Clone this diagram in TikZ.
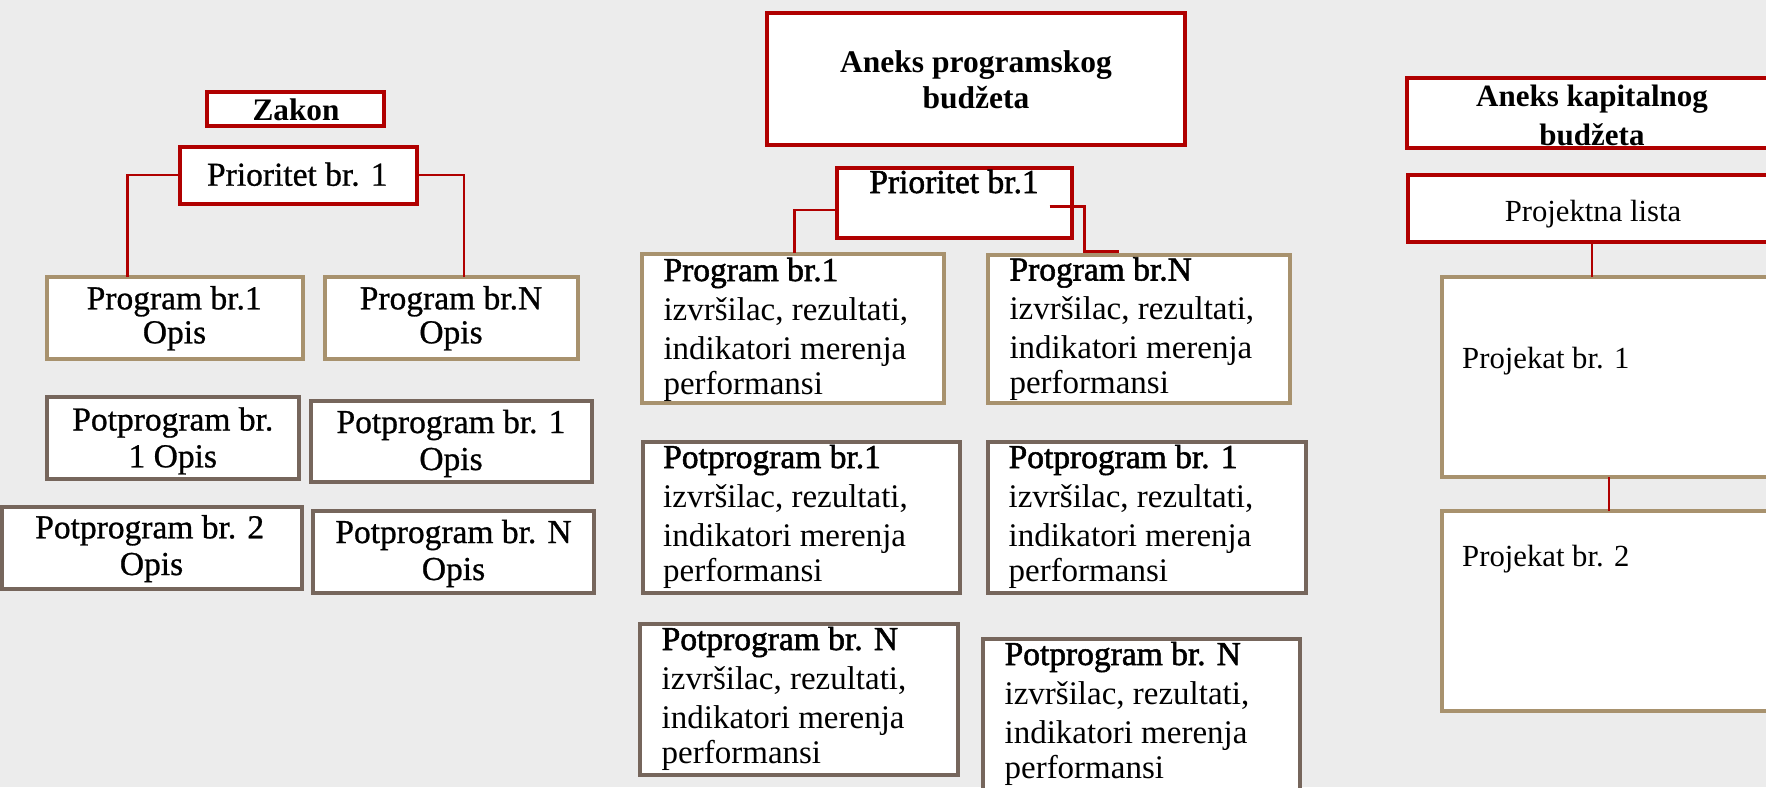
\documentclass[tikz,border=0pt]{standalone}
\usepackage{fontspec}
\setmainfont{Liberation Serif}
\newfontfamily\heavyf[FakeBold=0.8]{Liberation Serif}
\newfontfamily\semibf[FakeBold=1.6]{Liberation Serif}
\usetikzlibrary{calc}
\definecolor{bgc}{RGB}{236,236,236}
\definecolor{redc}{RGB}{176,0,0}
\definecolor{tanc}{RGB}{168,146,110}
\definecolor{brownc}{RGB}{118,102,92}
\tikzset{
 box/.style={draw, fill=white, line width=4pt, rectangle, inner sep=0pt, outer sep=0pt, anchor=north west},
 redbox/.style={box, draw=redc},
 tanbox/.style={box, draw=tanc},
 brownbox/.style={box, draw=brownc},
 conn/.style={draw=redc, line width=2.6pt},
 lt/.style={font=\heavyf\fontsize{33.5}{37}\selectfont, inner sep=0pt, anchor=base},
 mt/.style={font=\rmfamily\fontsize{33}{38}\selectfont, inner sep=0pt, anchor=base west},
 mth/.style={font=\semibf\fontsize{33.5}{38}\selectfont, inner sep=0pt, anchor=base west},
 rt/.style={font=\rmfamily\fontsize{30.7}{36}\selectfont, inner sep=0pt},
 rtb/.style={font=\rmfamily\bfseries\fontsize{31}{36}\selectfont, inner sep=0pt, anchor=base},
 mtb/.style={font=\rmfamily\bfseries\fontsize{31.5}{36}\selectfont, inner sep=0pt, anchor=base},
}
\newcommand\mkbox[6]{\node[#6, minimum width={#4-#2}, minimum height={#5-#3}] (#1) at (#2,#3) {};}
\newcommand\mblock[4]{%
 \node[mth] (#1h) at ({#2},{#3}) {#4};
 \node[mt] (#1a) at ({#2},{#3+39}) {izvršilac, rezultati,};
 \node[mt] (#1b) at ({#2},{#3+78}) {indikatori merenja};
 \node[mt] (#1c) at ({#2},{#3+113}) {performansi};
}
\begin{document}
\begin{tikzpicture}[x=1pt,y=-1pt]
\useasboundingbox (0,0) rectangle (1766,787);
\clip (0,0) rectangle (1766,787);
\fill[bgc] (0,0) rectangle (1766,787);
% left column
\mkbox{zakon}{206.6}{92}{384.3}{125.5}{redbox}
\mkbox{prioL}{180}{146.5}{417}{203.5}{redbox}
\mkbox{progL1}{46.7}{277}{302.5}{358.5}{tanbox}
\mkbox{progLN}{324.5}{277}{577.5}{358.5}{tanbox}
\mkbox{potL1}{46.7}{397.3}{299.3}{479.3}{brownbox}
\mkbox{potL1b}{311}{401}{592}{482}{brownbox}
\mkbox{potL2}{2}{507.3}{301.7}{589.3}{brownbox}
\mkbox{potLN}{313.4}{511}{593.5}{593}{brownbox}
% middle column
\mkbox{aneksP}{767.3}{13}{1185.2}{145}{redbox}
\mkbox{prioM}{837}{168}{1071.5}{238}{redbox}
\mkbox{progM1}{642}{254}{944}{402.5}{tanbox}
\mkbox{progMN}{988.3}{254.5}{1289.5}{402.5}{tanbox}
\mkbox{potM1}{642.8}{442}{960.2}{593}{brownbox}
\mkbox{potM1b}{988.3}{442}{1305.7}{593}{brownbox}
\mkbox{potMN}{640.1}{624}{957.5}{775}{brownbox}
\mkbox{potMNb}{983}{639}{1300.4}{800}{brownbox}
% right column
\mkbox{aneksK}{1407}{78}{1800}{148}{redbox}
\mkbox{projL}{1407.5}{175}{1800}{241.7}{redbox}
\mkbox{proj1}{1442}{277}{1800}{477}{tanbox}
\mkbox{proj2}{1442}{511}{1800}{711}{tanbox}
% connectors
\draw[conn] (prioL.west) -| ($(progL1.north west)+(80.7,0)$);
\draw[conn] (prioL.east) -| ($(progLN.north west)+(139.3,0)$);
\draw[conn] ($(prioM.west)+(0,7)$) -| ($(progM1.north west)+(152.2,-1)$);
\draw[conn] ($(prioM.east)+(-22,3.7)$) -- ++(34.7,0) |- ($(progMN.north west)+(131,-3)$);
\draw[conn] ($(projL.south west)+(184.5,0)$) -- ($(proj1.north west)+(150,0)$);
\draw[conn] ($(proj1.south west)+(167,0)$) -- ($(proj2.north west)+(167,0)$);
% left texts
\node[font=\rmfamily\bfseries\fontsize{31.3}{33}\selectfont, inner sep=0pt, anchor=base] (tzakon) at (296,120.7) {Zakon};
\node[lt] (tprioL) at (297.3,185.7) {Prioritet br. 1};
\node[lt] (tprogL1a) at (174.2,309.3) {Program br.1};
\node[lt] (tprogL1b) at (174.5,343.3) {Opis};
\node[lt] (tprogLNa) at (451,309.3) {Program br.N};
\node[lt] (tprogLNb) at (451,343.3) {Opis};
\node[lt] (tpotL1a) at (172.8,430.5) {Potprogram br.};
\node[lt] (tpotL1b) at (172.8,467.3) {1 Opis};
\node[lt] (tpotL1ba) at (451,433) {Potprogram br. 1};
\node[lt] (tpotL1bb) at (451,470) {Opis};
\node[lt] (tpotL2a) at (149.7,538.3) {Potprogram br. 2};
\node[lt] (tpotL2b) at (151.5,575) {Opis};
\node[lt] (tpotLNa) at (453.5,543) {Potprogram br. N};
\node[lt] (tpotLNb) at (453.5,580) {Opis};
% middle texts
\node[mtb] (taneksPa) at (976,72) {Aneks programskog};
\node[mtb] (taneksPb) at (976,108) {budžeta};
\node[font=\semibf\fontsize{33.5}{38}\selectfont, inner sep=0pt, anchor=base] (tprioM) at (954,193) {Prioritet br.1};
\mblock{bmA}{663.3}{281}{Program br.1}
\mblock{bmB}{1009.3}{280.5}{Program br.N}
\mblock{bpA}{663}{468}{Potprogram br.1}
\mblock{bpB}{1008.4}{468}{Potprogram br. 1}
\mblock{bpC}{661.5}{650}{Potprogram br. N}
\mblock{bpD}{1004.4}{665}{Potprogram br. N}
% right texts
\node[rtb] (taneksKa) at (1592,106) {Aneks kapitalnog};
\node[rtb] (taneksKb) at (1592,145) {budžeta};
\node[rt, anchor=base] (tprojL) at (1593,221) {Projektna lista};
\node[rt, anchor=base west] (tproj1) at (1462,368) {Projekat br. 1};
\node[rt, anchor=base west] (tproj2) at (1462,566) {Projekat br. 2};
\end{tikzpicture}
\end{document}
